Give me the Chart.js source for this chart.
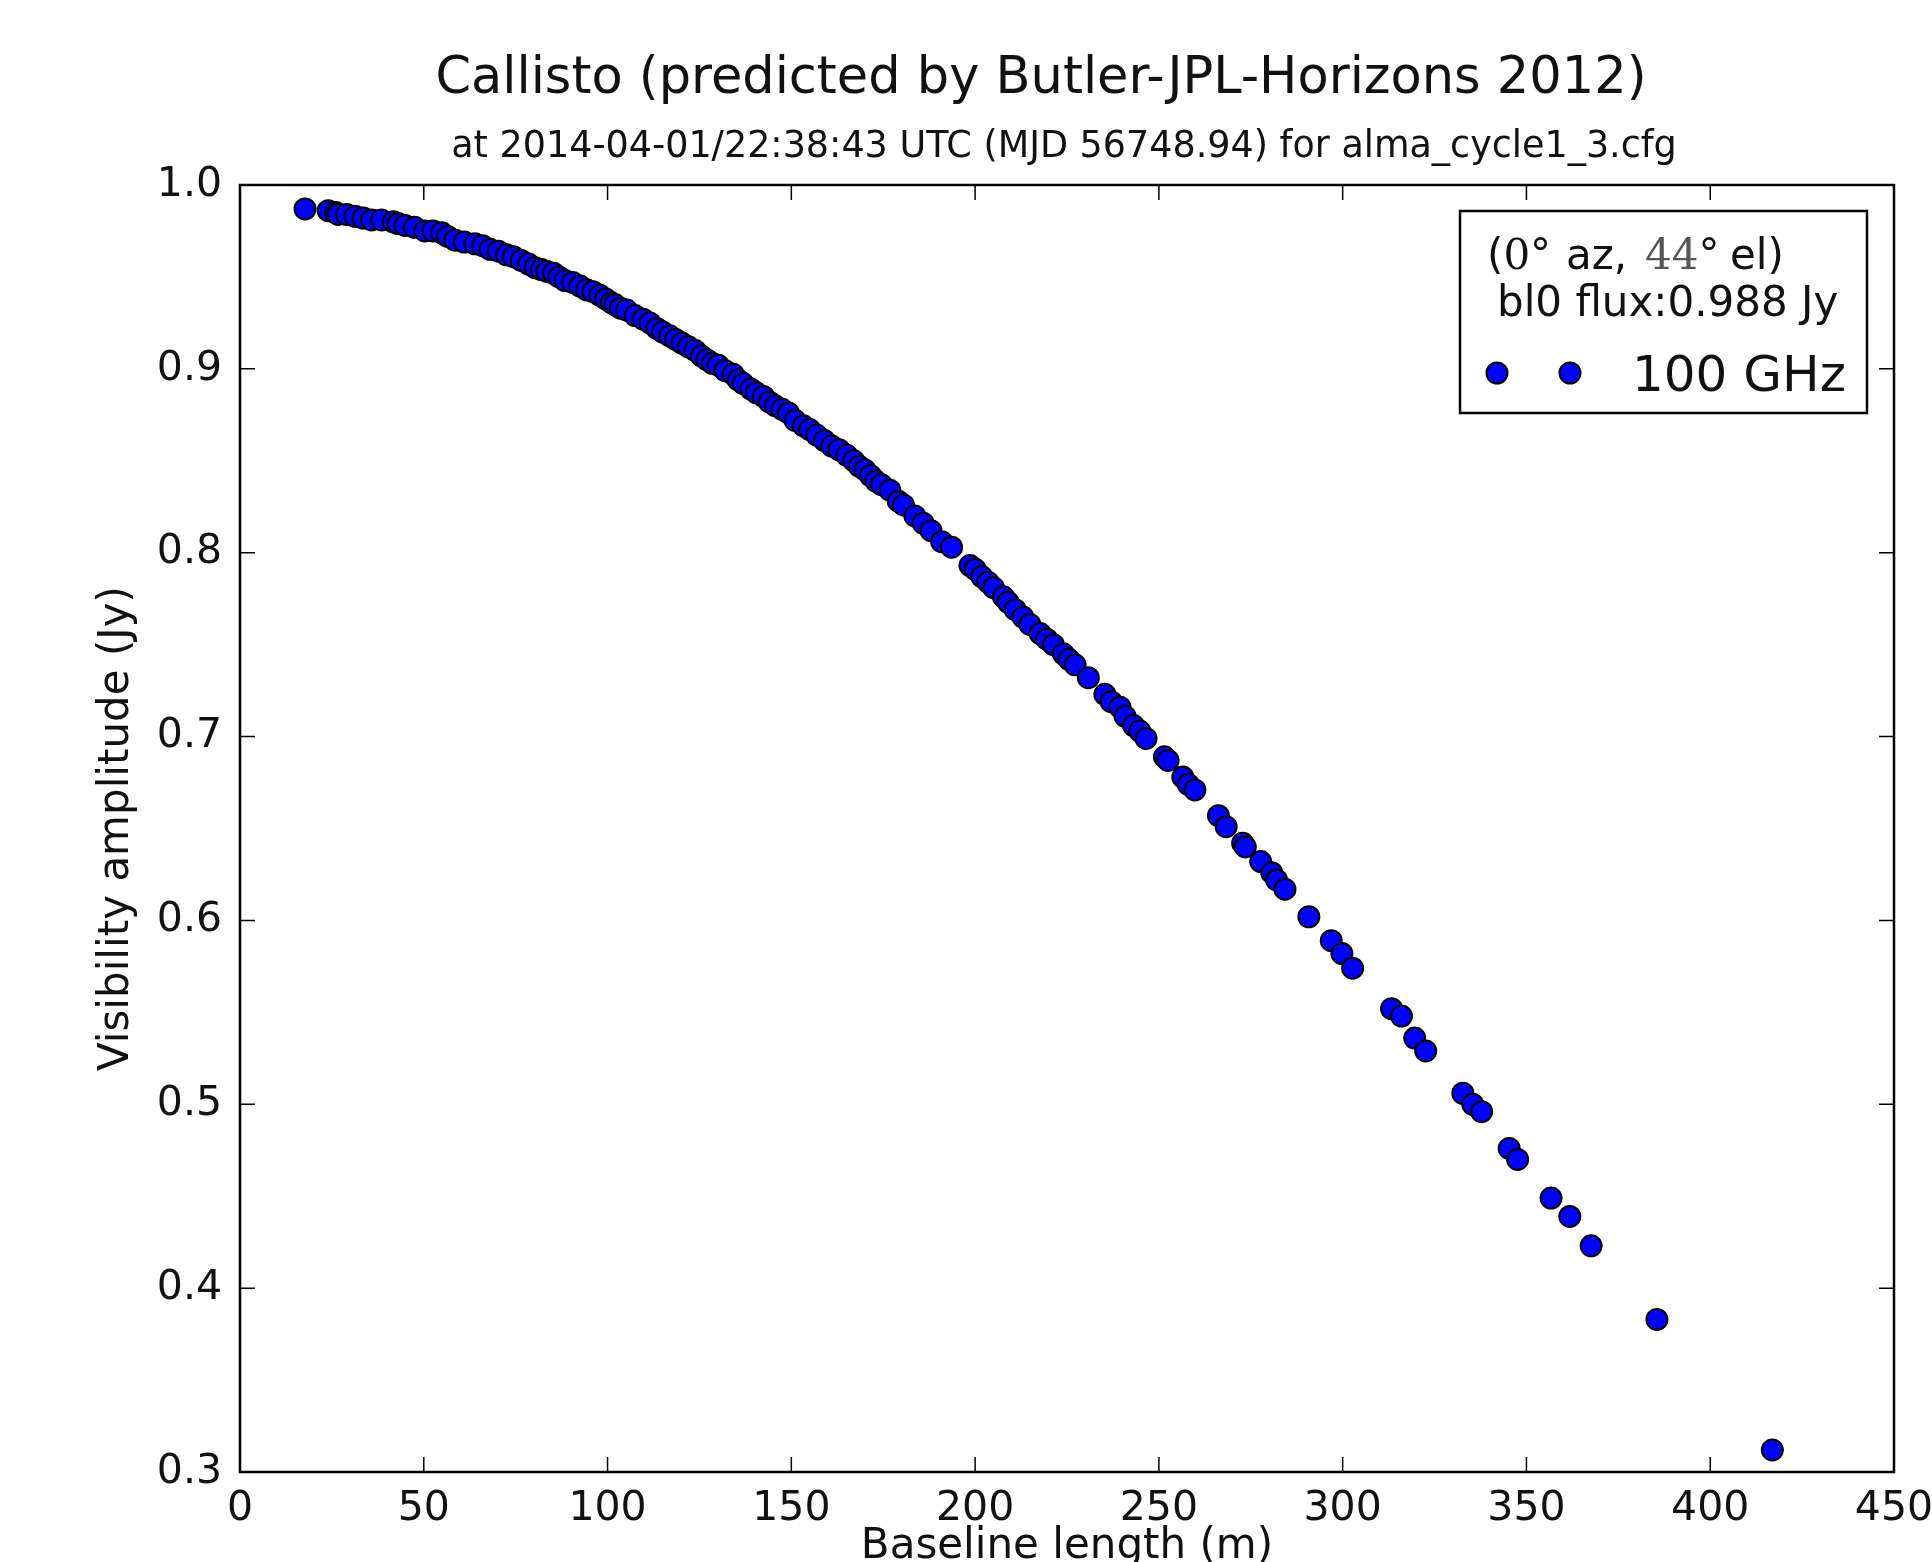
<!DOCTYPE html>
<html>
<head>
<meta charset="utf-8">
<script src="https://cdn.jsdelivr.net/npm/chart.js@4/dist/chart.umd.min.js"></script>
<style>
html,body{margin:0;padding:0;background:#fff;}
#wrap{width:1932px;height:1562px;position:relative;}
</style>
</head>
<body>
<div id="wrap"><canvas id="c"></canvas></div>
<script>
const TITLE = 'Callisto (predicted by Butler-JPL-Horizons 2012)';
const SUBTITLE = 'at 2014-04-01/22:38:43 UTC (MJD 56748.94) for alma_cycle1_3.cfg';
const X_LABEL = 'Baseline length (m)';
const Y_LABEL = 'Visibility amplitude (Jy)';
const SERIES_LABEL = '100 GHz';
const LEGEND_LINE2 = 'bl0 flux:0.988 Jy';
const AZ = '0';
const EL = '44';
const X_TICKS = [0, 50, 100, 150, 200, 250, 300, 350, 400, 450];
const Y_TICKS = [0.3, 0.4, 0.5, 0.6, 0.7, 0.8, 0.9, 1.0];

const baselines = [
  17.7,24.0,26.0,26.7,29.0,31.3,33.5,35.8,38.5,41.7,
  43.0,44.9,47.5,50.3,52.5,54.9,56.5,58.5,61.0,63.9,
  66.0,68.0,70.3,72.5,74.4,76.5,78.5,80.3,82.0,83.5,
  85.3,86.8,88.4,90.5,92.5,94.3,96.0,97.9,99.5,101.0,
  102.0,103.5,105.2,107.5,109.7,111.5,113.4,115.0,116.9,118.5,
  120.2,122.0,123.8,125.5,127.0,128.5,130.1,132.0,134.2,135.5,
  136.9,139.0,140.5,142.4,144.0,145.6,147.5,149.2,151.0,153.3,
  155.0,156.9,159.0,161.0,163.0,165.1,167.0,168.5,170.0,171.5,
  173.0,174.5,176.8,179.1,180.5,183.6,185.9,188.0,190.9,193.6,
  198.6,200.0,201.8,203.5,205.0,207.7,209.0,210.9,213.0,214.9,
  217.7,219.5,221.3,224.0,225.5,227.2,230.8,235.3,237.0,239.4,
  240.8,243.1,244.8,246.5,251.5,252.5,256.5,258.0,259.8,266.2,
  268.3,272.8,273.5,277.7,280.7,282.0,284.3,290.8,296.9,299.8,
  302.7,313.3,316.0,319.6,322.6,332.7,335.4,337.8,345.3,347.6,
  356.7,361.8,367.6,385.5,416.9
];
const amplitudes = [
  0.987,0.986,0.985,0.984,0.984,0.983,0.982,0.981,0.981,0.980,
  0.979,0.978,0.977,0.975,0.975,0.974,0.972,0.970,0.969,0.968,
  0.967,0.965,0.964,0.962,0.961,0.959,0.957,0.955,0.954,0.953,
  0.952,0.950,0.948,0.947,0.945,0.943,0.942,0.940,0.938,0.936,
  0.935,0.933,0.932,0.929,0.927,0.925,0.922,0.920,0.918,0.916,
  0.914,0.912,0.910,0.907,0.905,0.903,0.902,0.899,0.897,0.894,
  0.892,0.889,0.887,0.885,0.882,0.880,0.878,0.876,0.872,0.869,
  0.867,0.864,0.861,0.858,0.856,0.853,0.850,0.847,0.845,0.842,
  0.839,0.837,0.834,0.828,0.826,0.820,0.816,0.812,0.806,0.803,
  0.793,0.791,0.787,0.784,0.781,0.776,0.773,0.769,0.765,0.761,
  0.756,0.753,0.750,0.745,0.742,0.739,0.732,0.723,0.719,0.716,
  0.711,0.706,0.703,0.699,0.689,0.687,0.678,0.674,0.671,0.657,
  0.651,0.642,0.640,0.632,0.626,0.622,0.617,0.602,0.589,0.582,
  0.574,0.552,0.548,0.536,0.529,0.506,0.500,0.496,0.476,0.470,
  0.449,0.439,0.423,0.383,0.312
];

const SANS = 'DejaVu Sans';
const SERIF = 'DejaVu Serif';
const TXT = '#111111';
const MARKER_FILL = '#0000ff';
const MARKER_EDGE = '#000000';

const framePlugin = {
  id: 'frame',
  afterDraw(chart) {
    const {ctx, chartArea: a, scales} = chart;
    const x = scales.x, y = scales.y;
    ctx.save();
    // inward ticks on all four sides
    ctx.strokeStyle = '#000';
    ctx.lineWidth = 1.5;
    const TL = 15;
    ctx.beginPath();
    X_TICKS.forEach(v => {
      const px = x.getPixelForValue(v);
      ctx.moveTo(px, a.bottom); ctx.lineTo(px, a.bottom - TL);
      ctx.moveTo(px, a.top); ctx.lineTo(px, a.top + TL);
    });
    Y_TICKS.forEach(v => {
      const py = y.getPixelForValue(v);
      ctx.moveTo(a.left, py); ctx.lineTo(a.left + TL, py);
      ctx.moveTo(a.right, py); ctx.lineTo(a.right - TL, py);
    });
    ctx.stroke();
    // axes frame
    ctx.lineWidth = 2.5;
    ctx.strokeRect(a.left, a.top, a.right - a.left, a.bottom - a.top);

    // title & subtitle
    ctx.fillStyle = TXT;
    ctx.textAlign = 'center';
    ctx.textBaseline = 'alphabetic';
    ctx.font = `51px "${SANS}"`;
    ctx.fillText(TITLE, 1041, 93);
    ctx.font = `36.5px "${SANS}"`;
    ctx.fillText(SUBTITLE, 1064, 157);

    // legend box
    const L = {x0: 1460, y0: 211, x1: 1867, y1: 413};
    ctx.fillStyle = '#ffffff';
    ctx.fillRect(L.x0, L.y0, L.x1 - L.x0, L.y1 - L.y0);
    ctx.lineWidth = 2.5;
    ctx.strokeStyle = '#000';
    ctx.strokeRect(L.x0, L.y0, L.x1 - L.x0, L.y1 - L.y0);

    ctx.textAlign = 'left';
    ctx.fillStyle = TXT;
    const fs = 42;
    const sans = `${fs}px "${SANS}"`;
    const serif = `${fs}px "${SERIF}"`;
    const base1 = 269;
    let cx = 1487;
    const run = (t, f, col) => {
      ctx.font = f; ctx.fillStyle = col || TXT;
      ctx.fillText(t, cx, base1); cx += ctx.measureText(t).width;
    };
    run('(', sans); run(AZ, serif); run('°', sans);
    cx = 1566; run('az,', sans);
    cx = 1645; run(EL, serif, '#555'); run('°', sans);
    cx = 1730; run('el)', sans);
    ctx.font = sans; ctx.fillStyle = TXT;
    ctx.fillText(LEGEND_LINE2, 1497, 316);

    // legend markers
    [1497, 1570].forEach(mx => {
      ctx.beginPath();
      ctx.arc(mx, 373, 10.5, 0, Math.PI * 2);
      ctx.fillStyle = MARKER_FILL; ctx.fill();
      ctx.lineWidth = 2; ctx.strokeStyle = MARKER_EDGE; ctx.stroke();
    });
    ctx.font = `50px "${SANS}"`;
    ctx.fillStyle = TXT;
    ctx.fillText(SERIES_LABEL, 1632, 391);
    ctx.restore();
  }
};

new Chart(document.getElementById('c'), {
  type: 'scatter',
  data: {
    datasets: [{
      label: SERIES_LABEL,
      data: baselines.map((b, i) => ({x: b, y: amplitudes[i]})),
      backgroundColor: MARKER_FILL,
      borderColor: MARKER_EDGE,
      borderWidth: 2,
      pointRadius: 10.5,
      pointHoverRadius: 10.5,
      clip: false
    }]
  },
  options: {
    responsive: true,
    maintainAspectRatio: false,
    animation: false,
    events: [],
    layout: {padding: {left: 0, top: 185, right: 38, bottom: 0}},
    plugins: {legend: {display: false}, title: {display: false}, tooltip: {enabled: false}},
    scales: {
      x: {
        type: 'linear', position: 'bottom', min: 0, max: 450,
        afterBuildTicks: s => { s.ticks = X_TICKS.map(v => ({value: v})); },
        afterFit: s => { s.height = 90; s.paddingLeft = 0; s.paddingRight = 0; },
        grid: {display: false, drawTicks: false},
        border: {display: false},
        ticks: {font: {family: SANS, size: 41}, color: TXT, padding: 13, maxRotation: 0, autoSkip: false,
                callback: v => String(v)},
        title: {display: true, text: X_LABEL, color: TXT, font: {family: SANS, size: 42, lineHeight: 0.72}, padding: 0}
      },
      y: {
        type: 'linear', position: 'left', min: 0.3, max: 1.0,
        afterBuildTicks: s => { s.ticks = Y_TICKS.map(v => ({value: v})); },
        afterFit: s => { s.width = 240; s.paddingTop = 0; s.paddingBottom = 0; },
        grid: {display: false, drawTicks: false},
        border: {display: false},
        ticks: {font: {family: SANS, size: 41}, color: TXT, padding: 18, autoSkip: false,
                callback: v => Number(v).toFixed(1)},
        title: {display: true, text: Y_LABEL, color: TXT, font: {family: SANS, size: 42, lineHeight: 1.2}, padding: {top: 92, bottom: 0}}
      }
    }
  },
  plugins: [framePlugin]
});
</script>
</body>
</html>
